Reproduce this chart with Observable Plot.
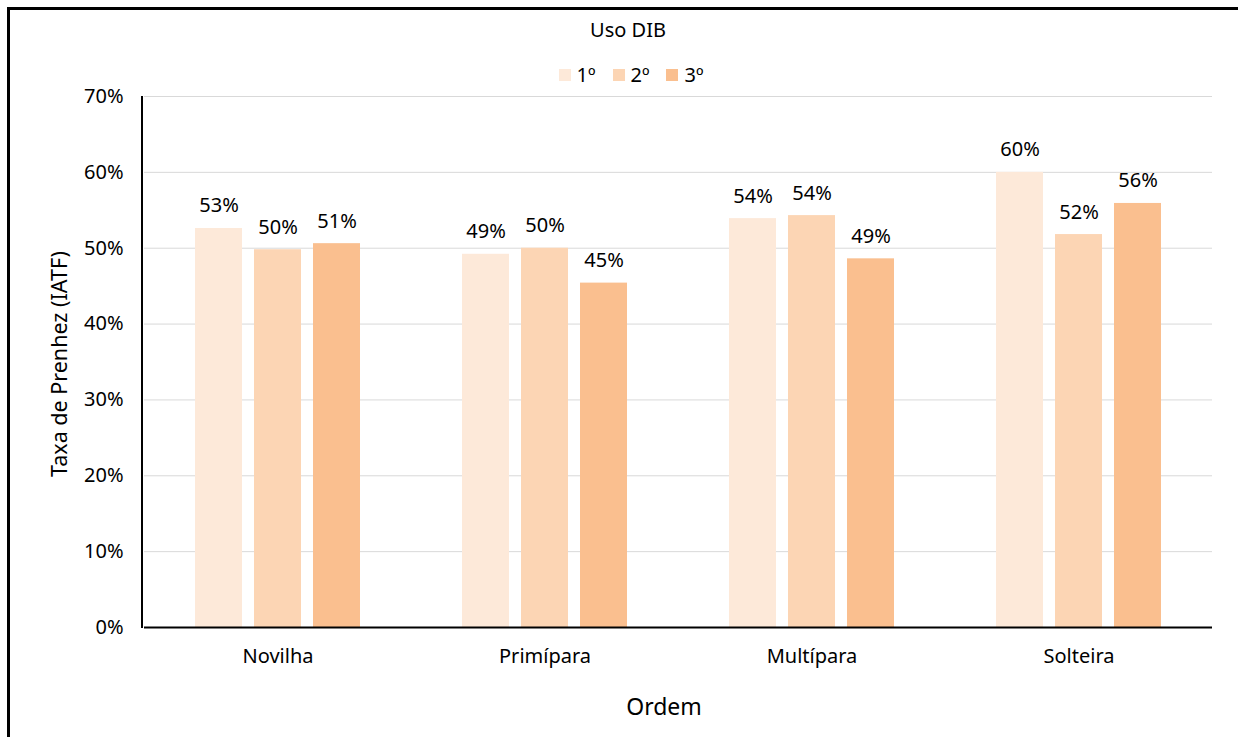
<!DOCTYPE html>
<html><head><meta charset="utf-8">
<script src="https://cdn.jsdelivr.net/npm/d3@7"></script>
<script src="https://cdn.jsdelivr.net/npm/@observablehq/plot@0.6"></script>
<style>
body{margin:0;background:#fff;overflow:hidden;font-family:"Noto Sans",sans-serif;color:#000;}
#wrap{position:relative;width:1238px;height:737px;overflow:hidden;}
#border{position:absolute;left:7px;top:7px;width:1300px;height:800px;border:3px solid #000;box-sizing:border-box;pointer-events:none;}
#title{position:absolute;left:0;width:1256px;top:16px;text-align:center;font-size:20px;}
#legend{position:absolute;left:0;width:1262px;top:61px;display:flex;justify-content:center;gap:17px;font-size:20px;}
#legend .item{display:flex;align-items:center;gap:6px;}
#legend .sw{width:12px;height:12px;display:inline-block;}
#xtitle{position:absolute;left:0;width:1328px;top:690px;text-align:center;font-size:23px;}
#ytitle{position:absolute;left:58px;top:364px;transform:translate(-50%,-50%) rotate(-90deg);white-space:nowrap;font-size:21.5px;}
#chart{position:absolute;left:0;top:0;}
</style></head>
<body>
<div id="wrap">
  <div id="chart"></div>
  <div id="title">Uso DIB</div>
  <div id="legend"></div>
  <div id="xtitle">Ordem</div>
  <div id="ytitle"></div>
  <div id="border"></div>
</div>
<script>
const categories = ["Novilha", "Primípara", "Multípara", "Solteira"];
const series = ["1º", "2º", "3º"];
const colors = ["#FDE9D9", "#FCD5B4", "#FABF8F"];
const values1 = [0.526, 0.492, 0.539, 0.600];
const values2 = [0.498, 0.500, 0.543, 0.518];
const values3 = [0.506, 0.454, 0.486, 0.559];
const yTicks = [0, 0.1, 0.2, 0.3, 0.4, 0.5, 0.6, 0.7];
const yLabel = "Taxa de Prenhez (IATF)";

const seriesValues = [values1, values2, values3];
const data = [];
categories.forEach((c, i) => series.forEach((s, j) => data.push({cat: c, ser: s, val: seriesValues[j][i]})));

document.getElementById("ytitle").textContent = yLabel;
const leg = document.getElementById("legend");
series.forEach((s, j) => {
  const it = document.createElement("div"); it.className = "item";
  const sw = document.createElement("span"); sw.className = "sw"; sw.style.background = colors[j];
  const t = document.createElement("span"); t.textContent = s;
  it.appendChild(sw); it.appendChild(t); leg.appendChild(it);
});

const pct = d3.format(".0%");
const chart = Plot.plot({
  width: 1238, height: 737,
  marginTop: 96, marginLeft: 142, marginRight: 25, marginBottom: 110,
  style: {fontFamily: "Noto Sans", fontSize: "20px", color: "#000", background: "transparent"},
  fx: {domain: categories, padding: 0, label: null, axis: null},
  x: {domain: series, paddingInner: 0.2, paddingOuter: 0.85, axis: null},
  y: {domain: [0, 0.7], axis: null},
  color: {domain: series, range: colors},
  marks: [
    Plot.gridY(yTicks, {stroke: "#D9D9D9", strokeOpacity: 1, strokeWidth: 1}),
    Plot.barY(data, {fx: "cat", x: "ser", y: "val", fill: "ser"}),
    Plot.text(data, {fx: "cat", x: "ser", y: "val", text: d => pct(d.val), lineAnchor: "bottom", dy: -16, fontSize: 20, fill: "#000"}),
    Plot.ruleY([0], {stroke: "#000", strokeWidth: 2}),
    Plot.axisY(yTicks, {tickFormat: d => Math.round(d * 100) + "%", tickSize: 0, tickPadding: 21, label: null, fontSize: 20}),
    Plot.axisFx({anchor: "bottom", tickSize: 0, tickPadding: 21, label: null, fontSize: 20})
  ]
});
document.getElementById("chart").appendChild(chart);
// left axis line drawn from the y scale
const ys = chart.scale("y");
d3.select(chart).append("line")
  .attr("x1", 142).attr("x2", 142)
  .attr("y1", ys.apply(0) + 1).attr("y2", ys.apply(0.7))
  .attr("stroke", "#000").attr("stroke-width", 2);
</script>
</body></html>
